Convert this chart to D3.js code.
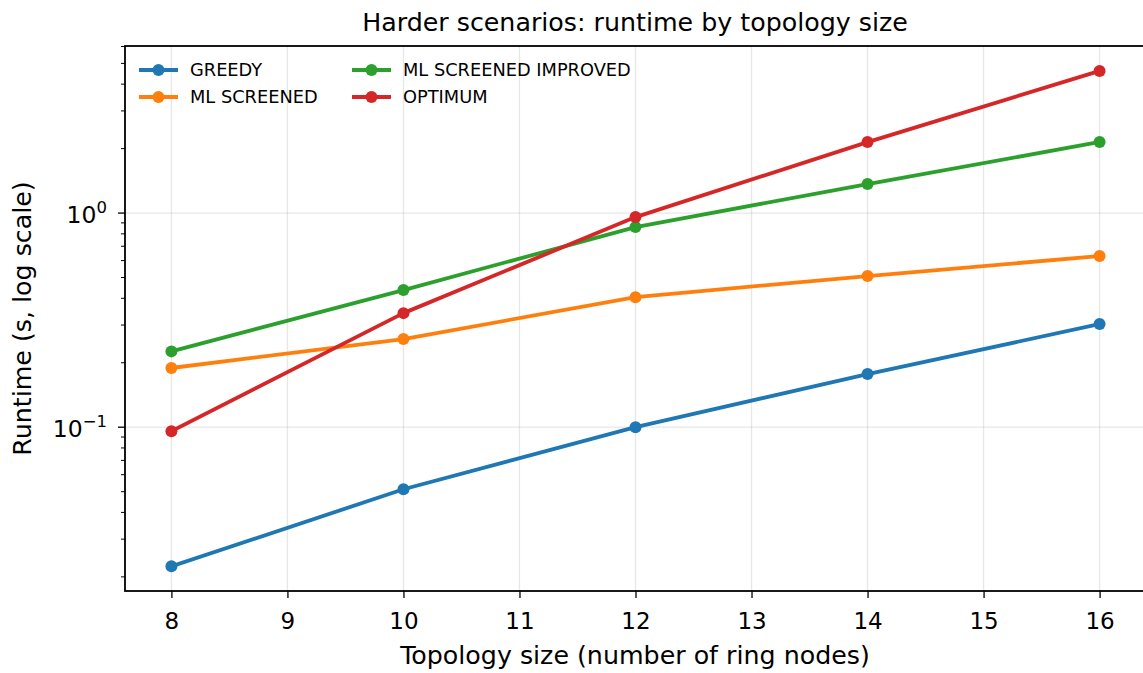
<!DOCTYPE html>
<html><head><meta charset="utf-8">
<script src="https://cdn.jsdelivr.net/npm/d3@7"></script>
<style>body{margin:0;background:#fff}svg{font-family:"DejaVu Sans",sans-serif}</style>
</head><body><svg id="c" width="1143" height="673"></svg>
<script>
const sizes = [8, 10, 12, 14, 16];
const greedy = [0.0224, 0.0513, 0.100, 0.177, 0.303];
const mlScreened = [0.189, 0.258, 0.405, 0.508, 0.630];
const mlImproved = [0.226, 0.437, 0.860, 1.366, 2.146];
const optimum = [0.0958, 0.341, 0.958, 2.146, 4.61];
const seriesNames = ["GREEDY", "ML SCREENED", "ML SCREENED IMPROVED", "OPTIMUM"];
const colors = ["#1f77b4", "#ff7f0e", "#2ca02c", "#d62728"];
const xTicks = [8, 9, 10, 11, 12, 13, 14, 15, 16];
const yMajor = [-1, 0];

const series = [greedy, mlScreened, mlImproved, optimum];
const svg = d3.select("#c");
const L = 125, R = 1146, T = 46, B = 591;
const x = d3.scaleLinear().domain([7.6, 16.4]).range([L, R]);
const y = d3.scaleLog().domain([0.01718, 6.03]).range([B, T]);

// grid
const g = svg.append("g");
xTicks.forEach(t => g.append("line").attr("x1", x(t)).attr("x2", x(t)).attr("y1", T).attr("y2", B)
  .attr("stroke", "#b0b0b0").attr("stroke-opacity", 0.3).attr("stroke-width", 1.3));
yMajor.forEach(e => g.append("line").attr("x1", L).attr("x2", R).attr("y1", y(10 ** e)).attr("y2", y(10 ** e))
  .attr("stroke", "#b0b0b0").attr("stroke-opacity", 0.3).attr("stroke-width", 1.3));

// axes
const xAxis = d3.axisBottom(x).tickValues(xTicks).tickSize(7).tickPadding(6).tickFormat(d3.format("d"));
const xg = svg.append("g").attr("transform", `translate(0,${B})`).call(xAxis);
xg.select(".domain").remove();
xg.selectAll("line").attr("stroke", "#000").attr("stroke-width", 1.3);
xg.selectAll("text").attr("font-size", 23).attr("font-family", "DejaVu Sans").attr("fill", "#000")
  .attr("dy", null).attr("y", 38);

const minor = [];
[-2, -1, 0].forEach(e => { for (let m = 2; m <= 9; m++) { const v = m * 10 ** e; if (v >= y.domain()[0] && v <= y.domain()[1]) minor.push(v); } });
const yg = svg.append("g");
minor.forEach(v => yg.append("line").attr("x1", L - 4).attr("x2", L).attr("y1", y(v)).attr("y2", y(v)).attr("stroke", "#000").attr("stroke-width", 1));
yMajor.forEach(e => {
  yg.append("line").attr("x1", L - 7).attr("x2", L).attr("y1", y(10 ** e)).attr("y2", y(10 ** e)).attr("stroke", "#000").attr("stroke-width", 1.3);
  const t = yg.append("text").attr("x", L - 18).attr("y", y(10 ** e) + 10).attr("text-anchor", "end")
    .attr("font-size", 23.5).attr("fill", "#000");
  t.append("tspan").text("10");
  t.append("tspan").attr("dy", -10).attr("font-size", 16.5).text(e === 0 ? "0" : "\u22121");
});

// frame
svg.append("rect").attr("x", L).attr("y", T).attr("width", R - L).attr("height", B - T)
  .attr("fill", "none").attr("stroke", "#000").attr("stroke-width", 1.8);

// lines
const line = d3.line().x((d, i) => x(sizes[i])).y(d => y(d));
series.forEach((s, k) => {
  svg.append("path").datum(s).attr("d", line).attr("fill", "none").attr("stroke", colors[k])
    .attr("stroke-width", 3.8).attr("stroke-linejoin", "round").attr("stroke-linecap", "square");
  svg.selectAll(null).data(s).enter().append("circle").attr("cx", (d, i) => x(sizes[i])).attr("cy", d => y(d))
    .attr("r", 6).attr("fill", colors[k]);
});

// legend
const legPos = [[139, 70], [139, 97], [352, 70], [352, 97]];
seriesNames.forEach((n, k) => {
  const [lx, ly] = legPos[k];
  svg.append("line").attr("x1", lx).attr("x2", lx + 39).attr("y1", ly).attr("y2", ly).attr("stroke", colors[k]).attr("stroke-width", 3.8);
  svg.append("circle").attr("cx", lx + 19.5).attr("cy", ly).attr("r", 6).attr("fill", colors[k]);
  svg.append("text").attr("x", lx + 51).attr("y", ly + 6).attr("font-size", 17.8).attr("fill", "#000").text(n);
});

// titles
svg.append("text").attr("x", 635).attr("y", 31).attr("text-anchor", "middle").attr("font-size", 25.3).attr("fill", "#000")
  .text("Harder scenarios: runtime by topology size");
svg.append("text").attr("x", 635).attr("y", 664).attr("text-anchor", "middle").attr("font-size", 25.3).attr("fill", "#000")
  .text("Topology size (number of ring nodes)");
svg.append("text").attr("transform", `translate(31,${(T + B) / 2}) rotate(-90)`).attr("text-anchor", "middle")
  .attr("font-size", 25.3).attr("fill", "#000").text("Runtime (s, log scale)");
</script></body></html>
